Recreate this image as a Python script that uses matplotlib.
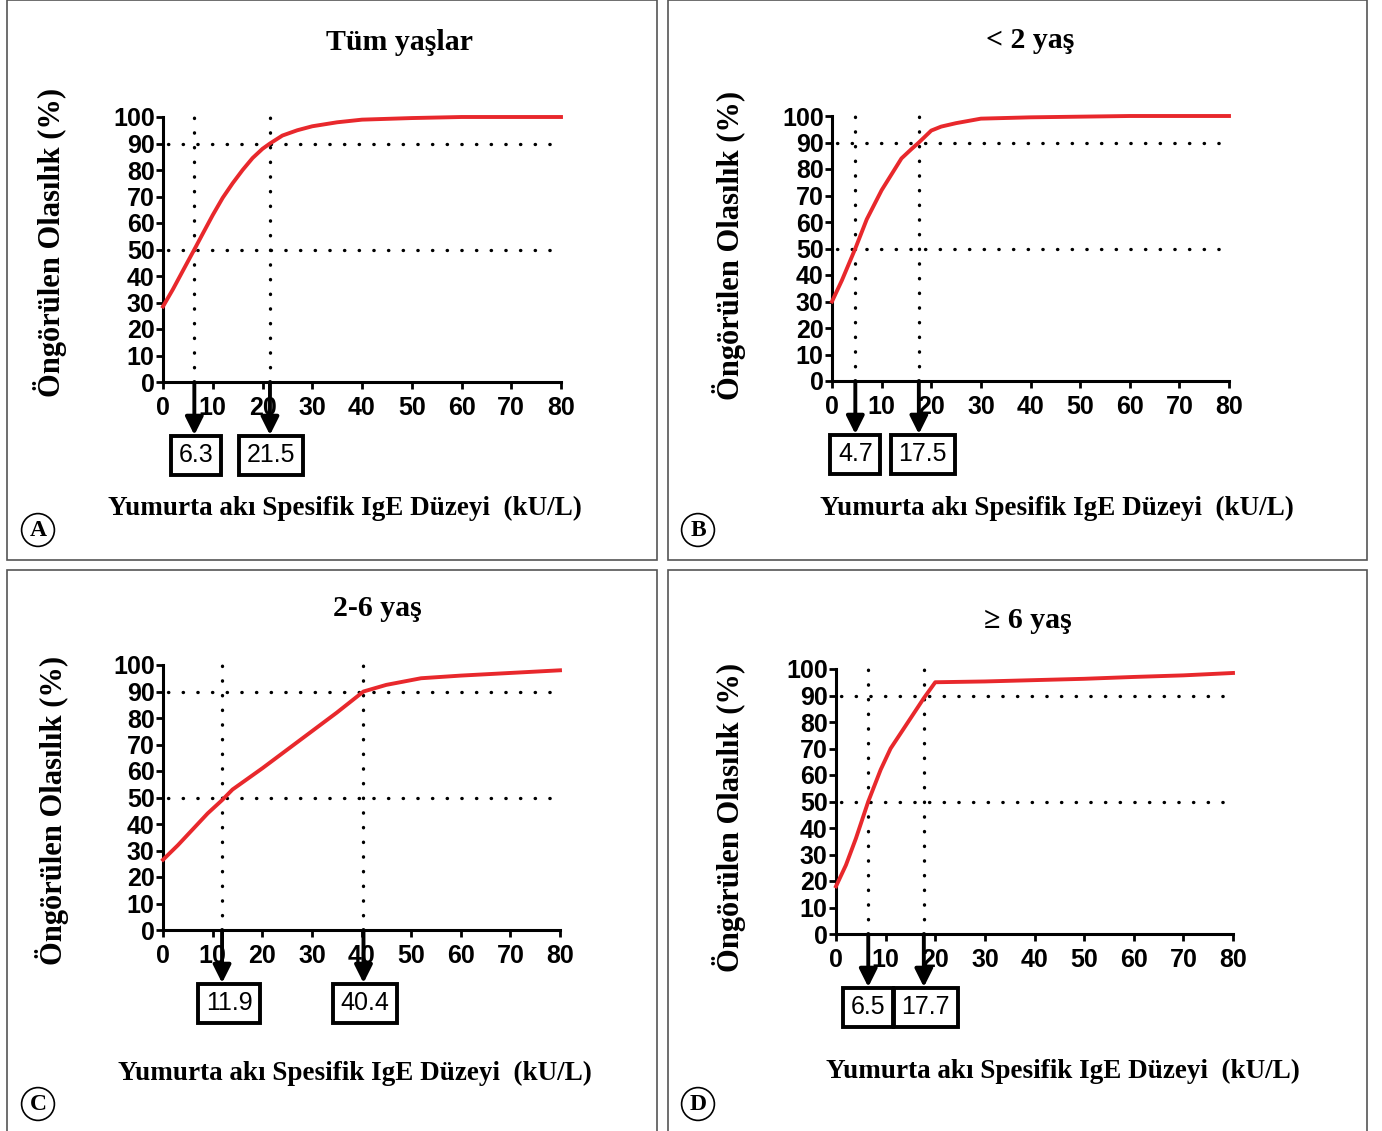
import matplotlib
matplotlib.use('Agg')
import matplotlib.pyplot as plt
from matplotlib.patches import Rectangle

W, H = 1382, 1131
SERIF = 'Liberation Serif'
SANS = 'Liberation Sans'
RED = '#e8282c'

# Veriler
titles = ['Tüm yaşlar', '< 2 yaş', '2-6 yaş', '≥ 6 yaş']
letters = ['A', 'B', 'C', 'D']

x_all = [0, 2, 4, 6.3, 8, 10, 12, 14, 16, 18, 20, 21.5, 24, 27, 30, 35, 40, 50, 60, 70, 80]
y_all = [28.5, 35, 42, 50, 56, 63, 69.5, 75, 80, 84.5, 88, 90, 93, 95, 96.5, 98, 99, 99.6, 100, 100, 100]

x_lt2 = [0, 2, 4.7, 7, 10, 12, 14, 16, 17.5, 20, 22, 25, 30, 40, 60, 80]
y_lt2 = [30, 38, 50, 61, 72, 78, 84, 87.5, 90, 94.5, 96, 97.3, 99, 99.5, 100, 100]

x_2_6 = [0, 3, 6, 9, 11.9, 14, 17, 20, 25, 30, 35, 40.4, 45, 52, 60, 70, 80]
y_2_6 = [26.5, 32, 38, 44, 49, 53, 57, 61, 68, 75, 82, 90, 92.5, 95, 96, 97, 98]

x_ge6 = [0, 2, 4, 6.5, 9, 11, 14, 17.7, 20, 30, 40, 50, 60, 70, 80]
y_ge6 = [18, 26, 36, 50, 62, 70, 78.5, 89, 95, 95.3, 95.8, 96.3, 97, 97.6, 98.5]

cutoffs = [[6.3, 21.5], [4.7, 17.5], [11.9, 40.4], [6.5, 17.7]]
cut_labels = [['6.3', '21.5'], ['4.7', '17.5'], ['11.9', '40.4'], ['6.5', '17.7']]
box_shift = [[0.3, 0.2], [0, 0.8], [1.4, 0.3], [0, 0.4]]

xs = [x_all, x_lt2, x_2_6, x_ge6]
ys = [y_all, y_lt2, y_2_6, y_ge6]

xticks = [0, 10, 20, 30, 40, 50, 60, 70, 80]
yticks = [0, 10, 20, 30, 40, 50, 60, 70, 80, 90, 100]

# yerleşim (piksel)
axes_px = [(163, 561, 117, 382), (832, 1229, 116, 381),
           (163, 560, 665, 930), (836, 1233, 669, 934)]
title_px = [(400, 42), (1030, 40), (377, 608), (1028, 620)]
ylab_px = [(50, 242), (729, 245), (52, 810), (729, 817)]
xlab_px = [(345, 508), (1057, 508), (355, 1073), (1063, 1071)]
circ_px = [(38, 530), (698, 530), (38, 1104), (698, 1104)]
frames_px = [(7, 0, 657, 560), (668, 0, 1367, 560),
             (7, 570, 657, 1140), (668, 570, 1367, 1140)]


def fx(x):
    return x / W


def fy(y):
    return 1 - y / H


fig = plt.figure(figsize=(W / 100, H / 100), dpi=100)

for (l, t, r, b) in frames_px:
    fig.add_artist(Rectangle((fx(l), fy(b)), fx(r - l), (b - t) / H,
                             transform=fig.transFigure, fill=False,
                             ec='#555555', lw=1.2))

for i in range(4):
    l, r, t, b = axes_px[i]
    ax = fig.add_axes([fx(l), fy(b), (r - l) / W, (b - t) / H])
    ax.set_xlim(0, 80)
    ax.set_ylim(0, 100)
    for s in ['top', 'right']:
        ax.spines[s].set_visible(False)
    for s in ['left', 'bottom']:
        ax.spines[s].set_linewidth(2.2)
    ax.set_xticks(xticks)
    ax.set_yticks(yticks)
    ax.tick_params(width=2, length=5, direction='out')
    ax.tick_params(axis='x', pad=5)
    ax.tick_params(axis='y', pad=1)
    for lab in ax.get_xticklabels() + ax.get_yticklabels():
        lab.set_fontfamily(SANS)
        lab.set_fontweight('bold')
        lab.set_fontsize(18)

    # noktalı kılavuz çizgileri
    for yv in [50, 90]:
        ax.plot([1, 80], [yv, yv], color='black', lw=2.4,
                linestyle=(0, (0.1, 4.3)), dash_capstyle='round', clip_on=False)
    for c in cutoffs[i]:
        ax.plot([c, c], [0, 101], color='black', lw=2.4,
                linestyle=(0, (0.1, 4.3)), dash_capstyle='round', clip_on=False)

    ax.plot(xs[i], ys[i], color=RED, lw=2.8, clip_on=False, zorder=5)

    for c, lab, sh in zip(cutoffs[i], cut_labels[i], box_shift[i]):
        ax.annotate('', xy=(c, -0.2), xycoords=('data', 'axes fraction'),
                    xytext=(c, 0), textcoords=('data', 'axes fraction'),
                    arrowprops=dict(arrowstyle='-|>', lw=2.8, color='black',
                                    mutation_scale=27, shrinkA=0, shrinkB=0))
        ax.text(c + sh, -0.277, lab, transform=ax.get_xaxis_transform(),
                ha='center', va='center', fontsize=18, family=SANS,
                bbox=dict(boxstyle='square,pad=0.3', fc='white', ec='black', lw=2.8))

    fig.text(fx(title_px[i][0]), fy(title_px[i][1]), titles[i], ha='center',
             va='center', family=SERIF, fontweight='bold', fontsize=21.5)
    fig.text(fx(ylab_px[i][0]), fy(ylab_px[i][1]), 'Öngörülen Olasılık (%)',
             rotation=90, ha='center', va='center', family=SERIF,
             fontweight='bold', fontsize=22)
    fig.text(fx(xlab_px[i][0]), fy(xlab_px[i][1]),
             'Yumurta akı Spesifik IgE Düzeyi  (kU/L)', ha='center', va='center',
             family=SERIF, fontweight='bold', fontsize=19.5)
    fig.text(fx(circ_px[i][0]), fy(circ_px[i][1]), letters[i], ha='center',
             va='center', family=SERIF, fontweight='bold', fontsize=17,
             bbox=dict(boxstyle='circle,pad=0.25', fc='white', ec='black', lw=1.2))

fig.savefig('out.png', dpi=100)
